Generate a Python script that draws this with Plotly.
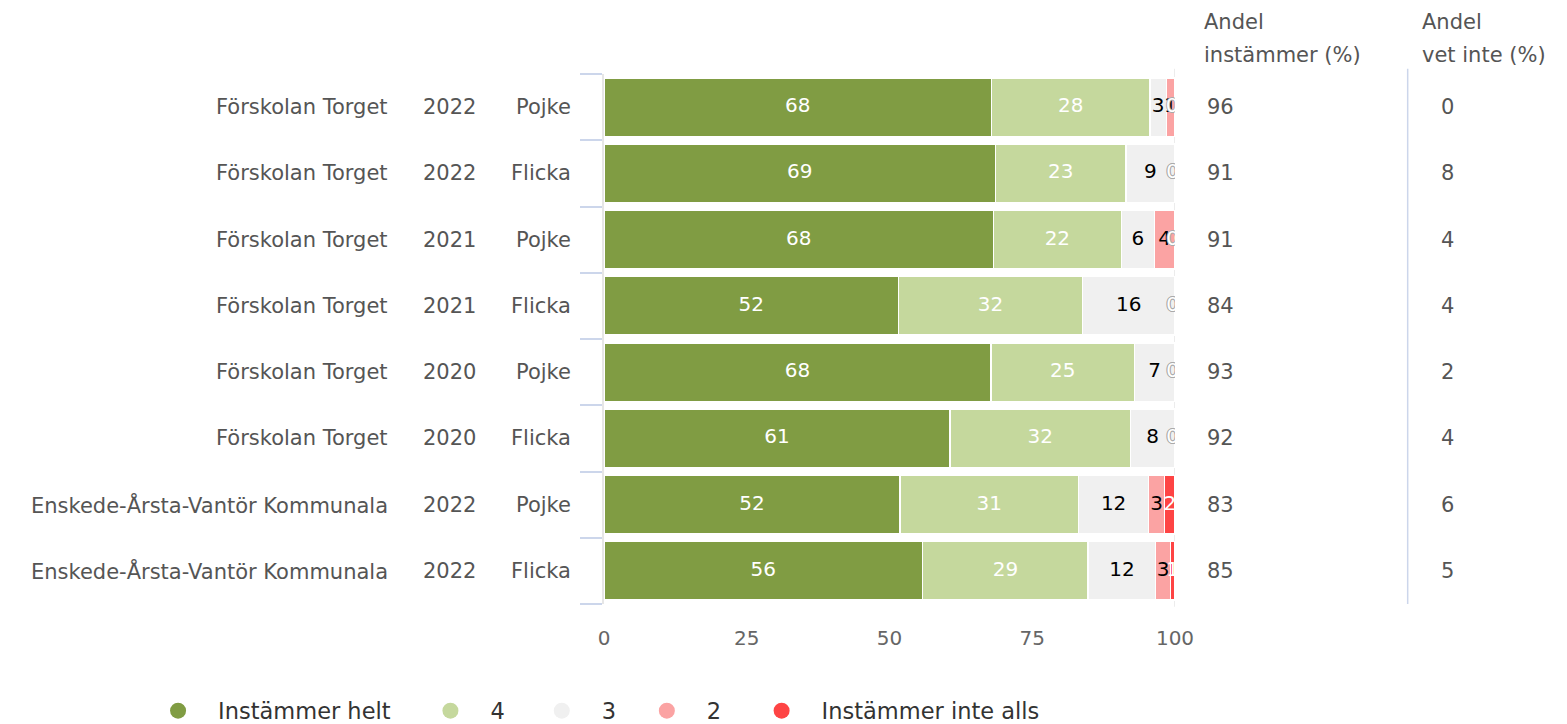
import plotly.graph_objects as go

# ---- data ----
units = ["Förskolan Torget", "Förskolan Torget", "Förskolan Torget", "Förskolan Torget",
         "Förskolan Torget", "Förskolan Torget", "Enskede-Årsta-Vantör Kommunala",
         "Enskede-Årsta-Vantör Kommunala"]
years = ["2022", "2022", "2021", "2021", "2020", "2020", "2022", "2022"]
genders = ["Pojke", "Flicka", "Pojke", "Flicka", "Pojke", "Flicka", "Pojke", "Flicka"]

series_names = ["Instämmer helt", "4", "3", "2", "Instämmer inte alls"]
helt = [67.9, 68.6, 68.2, 51.6, 67.8, 60.6, 51.8, 55.8]
s4 = [27.7, 22.8, 22.4, 32.2, 25.1, 31.6, 31.3, 29.0]
s3 = [2.9, 8.6, 5.8, 16.2, 7.1, 7.8, 12.3, 11.8]
s2 = [1.4, 0.0, 3.6, 0.0, 0.0, 0.0, 2.8, 2.6]
inte = [0.0, 0.0, 0.0, 0.0, 0.0, 0.0, 1.8, 0.8]

andel_instammer = [96, 91, 91, 84, 93, 92, 83, 85]
andel_vet_inte = [0, 8, 4, 4, 2, 4, 6, 5]

colors = ["#809c43", "#c5d89d", "#f0f0f0", "#fba3a3", "#fe4444"]
label_colors = ["white", "white", "black", "black", "white"]

FONT = "DejaVu Sans"
FS = 21
series = [helt, s4, s3, s2, inte]
rows = list(range(len(units)))

fig = go.Figure()

# bars
for name, vals, col in zip(series_names, series, colors):
    fig.add_trace(go.Bar(
        x=vals, y=rows, orientation="h", name=name,
        marker=dict(color=col, line=dict(color="white", width=1.5)),
        showlegend=False, hoverinfo="x+name",
    ))

# segment labels (scatter text at segment centers)
cum = [0.0] * len(rows)
for k, (vals, lc) in enumerate(zip(series, label_colors)):
    xs, ys, txt, zx, zy, zt = [], [], [], [], [], []
    for i, v in enumerate(vals):
        c = cum[i] + v / 2
        if v < 0.5:
            zx.append(c - 0.4); zy.append(i); zt.append("0")
        else:
            xs.append(c); ys.append(i); txt.append(str(round(v)))
        cum[i] += v
    fig.add_trace(go.Scatter(
        x=xs, y=ys, text=txt, mode="text", showlegend=False, hoverinfo="skip",
        textfont=dict(color=lc, size=20, family=FONT),
    ))
    if zx:
        fig.add_trace(go.Scatter(
            x=zx, y=zy, text=zt, mode="text", showlegend=False, hoverinfo="skip",
            textfont=dict(color="white", size=20, family=FONT,
                          shadow="1px 0 0 #aaa, -1px 0 0 #aaa, 0 1px 0 #aaa, 0 -1px 0 #aaa"),
        ))

# legend entries (one legend per item, circles)
legend_x = [-0.816, -0.339, -0.144, 0.040, 0.241]
for idx, (name, col) in enumerate(zip(series_names, colors)):
    lname = "legend" if idx == 0 else f"legend{idx+1}"
    fig.add_trace(go.Scatter(
        x=[None], y=[None], mode="markers", name=name,
        marker=dict(color=col, size=22, symbol="circle"),
        showlegend=True, legend=lname,
    ))
    fig.update_layout({lname: dict(
        x=legend_x[idx], xanchor="left", y=-0.202, yanchor="middle",
        orientation="h", font=dict(size=22.5, color="#333", family=FONT),
        bgcolor="rgba(0,0,0,0)", itemsizing="trace", itemwidth=70,
    )})

lab_font = dict(size=FS, color="#555", family=FONT)
annotations = []
for i in rows:
    annotations.append(dict(x=0, xref="paper", y=i, yref="y", text=units[i],
                            xanchor="right", xshift=-214, showarrow=False, font=lab_font))
    annotations.append(dict(x=0, xref="paper", y=i, yref="y", text=years[i],
                            xanchor="center", xshift=-155, showarrow=False, font=lab_font))
    annotations.append(dict(x=0, xref="paper", y=i, yref="y", text=genders[i],
                            xanchor="right", xshift=-31, showarrow=False, font=lab_font))
    annotations.append(dict(x=1, xref="paper", y=i, yref="y", text=str(andel_instammer[i]),
                            xanchor="left", xshift=30, showarrow=False, font=lab_font))
    annotations.append(dict(x=1, xref="paper", y=i, yref="y", text=str(andel_vet_inte[i]),
                            xanchor="center", xshift=272, showarrow=False, font=lab_font))

for txt, xs, ys in [("Andel", 27, 52), ("instämmer (%)", 27, 19),
                    ("Andel", 245, 52), ("vet inte (%)", 245, 19)]:
    annotations.append(dict(x=1, xref="paper", y=1, yref="paper", text=txt,
                            xanchor="left", yanchor="middle", xshift=xs, yshift=ys,
                            showarrow=False, font=lab_font))

shapes = [
    dict(type="line", xref="x", yref="paper", x0=100, x1=100, y0=-0.005, y1=1.01,
         line=dict(color="#e6e6e6", width=1.5), layer="below"),
    dict(type="line", xref="paper", yref="paper", x0=1.4075, x1=1.4075, y0=0, y1=1.01,
         line=dict(color="#ccd6eb", width=1.5)),
]

fig.update_layout(
    width=1567, height=724,
    margin=dict(l=596, r=400, t=66, b=128, autoexpand=False),
    barmode="stack", bargap=0.12,
    plot_bgcolor="white", paper_bgcolor="white",
    font=dict(family=FONT, size=FS, color="#555"),
    xaxis=dict(range=[0, 100], tickvals=[0, 25, 50, 75, 100], showgrid=False,
               zeroline=False, showline=False, ticks="", ticklabelstandoff=20,
               tickfont=dict(size=20, color="#666", family=FONT), fixedrange=True),
    yaxis=dict(range=[7.5, -0.5], tickvals=[r - 0.5 for r in range(len(rows) + 1)],
               showticklabels=False, ticks="outside", ticklen=22, tickcolor="#ccd6eb",
               tickwidth=1.5, showgrid=False, zeroline=False, showline=True,
               linecolor="#e6e6e6", linewidth=1.5, fixedrange=True),
    annotations=annotations, shapes=shapes,
)

fig.write_html("out.html")
